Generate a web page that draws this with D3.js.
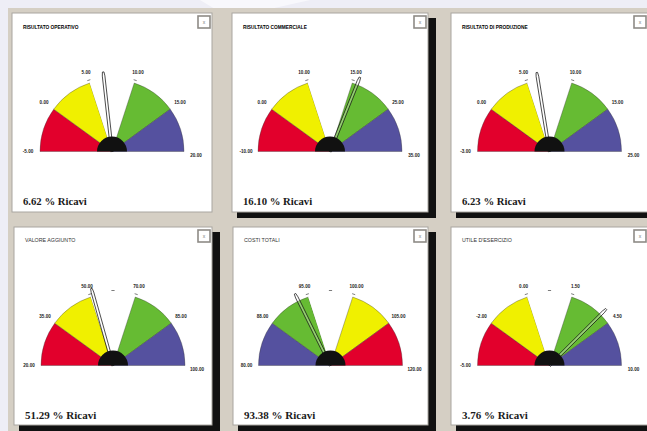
<!DOCTYPE html>
<html>
<head>
<meta charset="utf-8">
<script src="https://cdn.jsdelivr.net/npm/d3@7/dist/d3.min.js"></script>
<style>
  html, body { margin: 0; padding: 0; background: #eeeef6; }
  svg { display: block; }
</style>
</head>
<body>
<svg id="chart" width="647" height="431"></svg>
<script>
// ---------- DATA ----------
const titles = ["RISULTATO OPERATIVO", "RISULTATO COMMERCIALE", "RISULTATO DI PRODUZIONE",
                "VALORE AGGIUNTO", "COSTI TOTALI", "UTILE D'ESERCIZIO"];
const values = [6.62, 16.10, 6.23, 51.29, 93.38, 3.76];
const unitLabel = "% Ricavi";
// zone boundaries (6 per gauge -> 5 zones)
const bounds1 = [-5.00, 0.00, 5.00, 10.00, 15.00, 20.00];
const bounds2 = [-10.00, 0.00, 10.00, 15.00, 25.00, 35.00];
const bounds3 = [-3.00, 0.00, 5.00, 10.00, 15.00, 25.00];
const bounds4 = [20.00, 35.00, 50.00, 70.00, 85.00, 100.00];
const bounds5 = [80.00, 88.00, 95.00, 100.00, 105.00, 120.00];
const bounds6 = [-5.00, -2.00, 0.00, 1.50, 4.50, 10.00];
const allBounds = [bounds1, bounds2, bounds3, bounds4, bounds5, bounds6];
const zoneOrderNormal = ["red", "yellow", "white", "green", "blue"];
const zoneOrderReversed = ["blue", "green", "white", "yellow", "red"];
const zoneOrders = [zoneOrderNormal, zoneOrderNormal, zoneOrderNormal,
                    zoneOrderNormal, zoneOrderReversed, zoneOrderNormal];
const showMidTick = [false, false, false, true, true, true];

// ---------- STYLE / LAYOUT ----------
const palette = { red: "#e2002c", yellow: "#f0f000", white: "#ffffff", green: "#66bb33", blue: "#55519f" };
const panels = [
  { x: 12,  y: 13,  w: 200, h: 199, shadow: false },
  { x: 232, y: 13,  w: 196, h: 199, shadow: true },
  { x: 451, y: 13,  w: 197, h: 199, shadow: true },
  { x: 14,  y: 227, w: 198, h: 198, shadow: true },
  { x: 233, y: 227, w: 195, h: 198, shadow: true },
  { x: 451, y: 227, w: 197, h: 198, shadow: true }
];
const R = 72, HUB = 15;

const svg = d3.select("#chart");
// background frame
svg.append("rect").attr("x", 0).attr("y", 0).attr("width", 647).attr("height", 431).attr("fill", "#eeeef6");
svg.append("path").attr("d", "M200,0 L310,0 L270,9 L215,9 Z").attr("fill", "#f8f8fc");
svg.append("rect").attr("x", 8).attr("y", 8).attr("width", 639).attr("height", 423).attr("fill", "#d5cfc4");

const degToRad = Math.PI / 180;
const arc = d3.arc();

panels.forEach((p, i) => {
  const g = svg.append("g");
  if (p.shadow) {
    g.append("rect").attr("x", p.x + 5).attr("y", p.y + 5).attr("width", p.w + 3).attr("height", p.h + 1)
      .attr("fill", "#111");
  }
  g.append("rect").attr("x", p.x).attr("y", p.y).attr("width", p.w).attr("height", p.h)
    .attr("fill", "#fff").attr("stroke", "#a9a6a0").attr("stroke-width", 1);

  // close box
  g.append("rect").attr("x", p.x + p.w - 14).attr("y", p.y + 3).attr("width", 12).attr("height", 12)
    .attr("fill", "#fff").attr("stroke", "#8e8b86").attr("stroke-width", 1.6);
  g.append("text").attr("x", p.x + p.w - 8).attr("y", p.y + 11).attr("text-anchor", "middle")
    .attr("font-family", "Arial, Liberation Sans, sans-serif").attr("font-size", 5).attr("fill", "#777").text("x");

  // title
  g.append("text").attr("x", p.x + 11).attr("y", p.y + (i < 3 ? 16 : 15))
    .attr("font-family", "Liberation Sans, Arial, sans-serif")
    .attr("font-size", i < 3 ? 4.8 : 5.3).attr("font-weight", i < 3 ? "bold" : "normal")
    .attr("fill", i < 3 ? "#000" : "#333").text(titles[i]);

  // value text
  g.append("text").attr("x", p.x + 11).attr("y", p.y + 192)
    .attr("font-family", "Liberation Serif, Times New Roman, serif")
    .attr("font-size", i < 3 ? 10.7 : 11).attr("font-weight", "bold").attr("fill", "#1a1a1a")
    .text(values[i].toFixed(2) + " " + unitLabel);

  // gauge
  const cx = p.x + p.w / 2, cy = p.y + 138.5;
  const gg = g.append("g").attr("transform", `translate(${cx},${cy})`);
  const b = allBounds[i];
  const angle = d3.scaleLinear().domain(b).range([-90, -54, -18, 18, 54, 90]).clamp(true);

  const zones = d3.range(5).map(k => ({ a0: angle(b[k]), a1: angle(b[k + 1]), color: zoneOrders[i][k] }));
  gg.selectAll("path.zone").data(zones).join("path").attr("class", "zone")
    .attr("d", d => arc({ innerRadius: 0, outerRadius: R, startAngle: d.a0 * degToRad, endAngle: d.a1 * degToRad }))
    .attr("fill", d => palette[d.color])
    .attr("stroke", d => d.color === "white" ? "none" : "#333")
    .attr("stroke-width", 0.35);

  // boundary labels
  gg.selectAll("text.lbl").data(b).join("text").attr("class", "lbl")
    .attr("x", d => Math.sin(angle(d) * degToRad) * 84)
    .attr("y", (d, k) => -Math.cos(angle(d) * degToRad) * 84 + (k === 5 ? 4 : (k === 0 ? 0 : 1)))
    .attr("text-anchor", "middle").attr("dominant-baseline", "middle")
    .attr("font-family", "Liberation Sans, Arial, sans-serif").attr("font-size", 4.6)
    .attr("font-weight", "bold").attr("fill", "#222")
    .text(d => d.toFixed(2));

  // small ticks around the white zone
  const tickVals = showMidTick[i] ? [b[2], (b[2] + b[3]) / 2, b[3]] : [b[2], b[3]];
  tickVals.forEach((v) => {
    const a = angle(v) * degToRad;
    const tx = Math.sin(a) * 75, ty = -Math.cos(a) * 75;
    const dx = Math.cos(a) * 1.6, dy = Math.sin(a) * 1.6;
    gg.append("line").attr("x1", tx - dx).attr("y1", ty - dy).attr("x2", tx + dx).attr("y2", ty + dy)
      .attr("stroke", "#444").attr("stroke-width", 0.7);
  });

  // needle
  const na = angle(values[i]) * degToRad;
  const ux = Math.sin(na), uy = -Math.cos(na);
  const px = Math.cos(na), py = Math.sin(na);
  const L = 80, hw = 1.3;
  const pts = [
    [px * hw, py * hw],
    [ux * (L - 4) + px * hw, uy * (L - 4) + py * hw],
    [ux * L + px * (hw * 0.6), uy * L + py * (hw * 0.6)],
    [ux * L - px * (hw * 0.6), uy * L - py * (hw * 0.6)],
    [ux * (L - 4) - px * hw, uy * (L - 4) - py * hw],
    [-px * hw, -py * hw]
  ];
  gg.append("path").attr("d", d3.line()(pts) + "Z")
    .attr("fill", "#fff").attr("fill-opacity", 0.3)
    .attr("stroke", "#111").attr("stroke-width", 0.75);

  // hub
  gg.append("path")
    .attr("d", arc({ innerRadius: 0, outerRadius: HUB, startAngle: -Math.PI / 2, endAngle: Math.PI / 2 }))
    .attr("fill", "#111");
});
</script>
</body>
</html>
